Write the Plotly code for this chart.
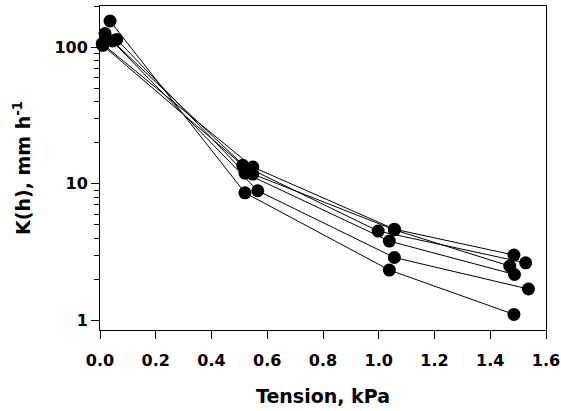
import plotly.graph_objects as go

# Tension (kPa) and K(h) (mm/h) for six runs
x_s1 = [0.036, 0.520, 1.038, 1.485]
k_s1 = [157, 8.6, 2.33, 1.10]
x_s2 = [0.018, 0.566, 1.056, 1.537]
k_s2 = [127, 8.9, 2.88, 1.69]
x_s3 = [0.060, 0.520, 1.038, 1.487]
k_s3 = [115, 12.0, 3.8, 2.16]
x_s4 = [0.045, 0.548, 1.056, 1.470]
k_s4 = [112, 11.8, 4.6, 2.49]
x_s5 = [0.008, 0.548, 1.056, 1.485]
k_s5 = [107, 13.3, 4.65, 3.0]
x_s6 = [0.010, 0.512, 0.998, 1.527]
k_s6 = [104, 13.7, 4.5, 2.63]

series = [(x_s1, k_s1), (x_s2, k_s2), (x_s3, k_s3),
          (x_s4, k_s4), (x_s5, k_s5), (x_s6, k_s6)]

x_ticks = [0.0, 0.2, 0.4, 0.6, 0.8, 1.0, 1.2, 1.4, 1.6]
y_ticks = [1, 10, 100]
y_minor = [2, 3, 4, 5, 6, 7, 8, 9, 20, 30, 40, 50, 60, 70, 80, 90, 200]

fig = go.Figure()
for xs, ks in series:
    fig.add_trace(go.Scatter(
        x=xs, y=ks, mode="lines+markers",
        line=dict(color="black", width=1),
        marker=dict(color="black", size=13),
        cliponaxis=False, showlegend=False))

font = "DejaVu Sans, sans-serif"
fig.update_layout(
    width=561, height=411,
    margin=dict(l=100, r=15, t=6, b=81),
    paper_bgcolor="white", plot_bgcolor="white",
    font=dict(family=font, color="black"),
)
fig.update_xaxes(
    range=[0, 1.6], tickvals=x_ticks,
    ticktext=[f"<b>{v:.1f}</b>" for v in x_ticks],
    tickfont=dict(size=16), automargin=False, ticklabelstandoff=8,
    ticks="outside", ticklen=8, tickwidth=1, tickcolor="black",
    showline=True, linecolor="black", linewidth=1, mirror=True,
    showgrid=False, zeroline=False,
    title=dict(text="<b>Tension, kPa</b>", font=dict(size=19), standoff=20),
)
fig.update_yaxes(
    type="log", range=[-0.073, 2.306], tickvals=y_ticks,
    ticktext=[f"<b>{v}</b>" for v in y_ticks],
    tickfont=dict(size=16), automargin=False,
    ticks="outside", ticklen=8, tickwidth=1, tickcolor="black",
    minor=dict(tickvals=y_minor, ticks="outside", ticklen=5, tickwidth=1,
               tickcolor="black", showgrid=False),
    showline=True, linecolor="black", linewidth=1, mirror=True,
    showgrid=False, zeroline=False,
    title=dict(text="<b>K(h), mm h<sup>-1</sup></b>", font=dict(size=19), standoff=18),
)
fig.write_html("out.html",
               config={"displayModeBar": False},
               post_script="document.body.style.margin='0';document.body.style.overflow='hidden';")
